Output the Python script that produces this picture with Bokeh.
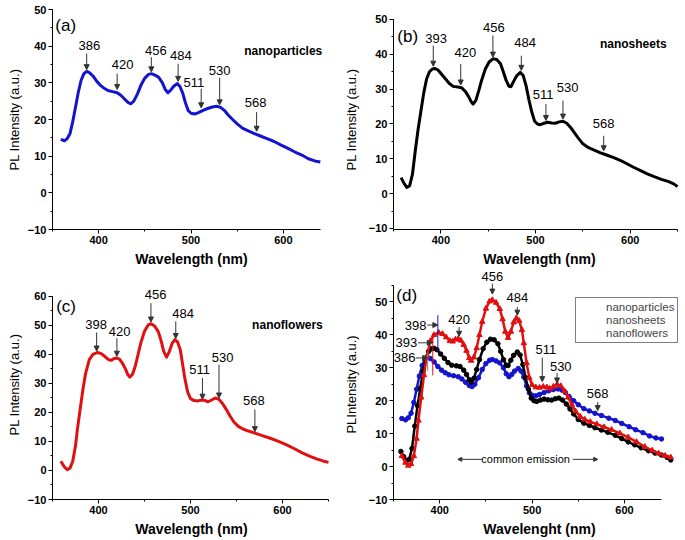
from bokeh.plotting import figure
from bokeh.layouts import column, row
from bokeh.models import (Range1d, ColumnDataSource, LabelSet, Arrow, NormalHead, Legend,
                          LegendItem, Label, SingleIntervalTicker)
from bokeh.core.properties import value
from bokeh.embed import file_html
from bokeh.resources import INLINE

FONT = "Liberation Sans"
BLUE = "#1414cc"
RED = "#e01010"
BLACK = "#000000"

# ---------------- data ----------------
wl_np = [359, 363, 366, 369, 372, 375, 378, 381, 384, 387, 390, 394, 398, 402, 406, 410, 415, 420,
         424, 428, 432, 435, 438, 442, 446, 450, 454, 457, 461, 465, 469, 472, 475, 478, 481, 485,
         488, 491, 494, 497, 500, 504, 508, 513, 518, 523, 528, 532, 536, 540, 545, 550, 556, 562,
         568, 575, 583, 590, 597, 605, 612, 620, 627, 634, 640]
pl_np = [14.6, 14.2, 14.8, 16.2, 19.5, 23.5, 27.5, 30.7, 32.5, 33.1, 32.8, 31.8, 30.4, 29.3, 28.5,
         27.9, 27.6, 27.3, 26.6, 25.6, 24.6, 24.3, 25.0, 27.0, 29.5, 31.3, 32.3, 32.5, 32.1, 31.5,
         30.0, 28.2, 27.3, 28.0, 29.0, 29.8, 29.0, 27.2, 24.5, 22.4, 21.7, 21.5, 21.9, 22.5, 23.0,
         23.4, 23.6, 23.3, 22.5, 21.3, 20.0, 18.8, 17.6, 16.9, 16.2, 15.5, 14.7, 14.0, 13.1, 12.1,
         11.2, 10.3, 9.3, 8.7, 8.4]

wl_ns = [358, 361, 364, 367, 370, 373, 376, 379, 382, 385, 388, 391, 394, 397, 401, 405, 409, 413,
         418, 422, 426, 429, 432, 434, 437, 440, 443, 447, 451, 455, 459, 463, 466, 469, 472, 474,
         477, 480, 484, 487, 490, 493, 496, 499, 502, 505, 509, 513, 517, 521, 525, 529, 533, 537,
         541, 545, 550, 556, 562, 568, 575, 582, 590, 597, 604, 611, 618, 626, 633, 640, 646, 650]
pl_ns = [4.6, 3.0, 1.8, 2.2, 5.5, 12.3, 18.5, 23.8, 29.0, 33.0, 35.0, 35.8, 35.9, 35.5, 34.2, 32.9,
         31.6, 30.8, 30.6, 30.4, 29.3, 28.0, 26.4, 25.7, 26.8, 29.5, 32.5, 35.8, 37.8, 38.7, 38.5,
         37.3, 35.0, 32.5, 30.8, 30.7, 32.3, 33.8, 34.8, 33.9, 31.0, 27.0, 23.5, 20.8, 20.0, 19.8,
         20.2, 20.5, 20.3, 20.2, 20.6, 20.8, 20.2, 19.0, 17.5, 16.0, 14.3, 13.2, 12.5, 11.8, 11.1,
         10.4, 9.5, 8.5, 7.5, 6.6, 5.7, 4.8, 4.1, 3.5, 2.8, 2.0]

wl_nf = [359, 363, 366, 369, 372, 375, 377, 380, 383, 386, 390, 394, 399, 403, 407, 411, 414, 417,
         420, 423, 426, 429, 432, 434, 437, 440, 443, 446, 450, 454, 457, 461, 465, 468, 471, 474,
         477, 480, 483, 486, 489, 491, 494, 497, 500, 504, 508, 512, 516, 519, 523, 527, 531, 535,
         539, 543, 547, 552, 557, 563, 570, 578, 586, 595, 604, 613, 622, 630, 637, 644, 650]
pl_nf = [3.2, 1.2, 0.3, 0.8, 3.2, 8.5, 14.0, 21.0, 27.8, 33.5, 38.2, 40.0, 40.7, 40.3, 39.3, 38.2,
         38.0, 38.6, 38.8, 38.3, 37.0, 35.2, 33.0, 32.2, 33.2, 36.0, 40.0, 44.0, 48.0, 50.2, 50.6,
         49.8, 47.9, 44.8, 41.0, 39.1, 41.0, 43.8, 45.1, 44.3, 41.5, 37.5, 31.5, 27.0, 24.8, 24.1,
         24.0, 24.3, 24.1, 23.7, 24.3, 25.0, 24.5, 23.0, 21.0, 18.8, 16.8, 15.2, 14.3, 13.6, 12.9,
         12.0, 11.2, 10.1, 8.9, 7.5, 6.0, 4.9, 4.0, 3.3, 2.8]

# peak annotations: label, text x, text y, arrow x, arrow y start, arrow y end
a_lab = ["386", "420", "456", "484", "511", "530", "568"]
a_tx = [390, 426, 462, 489, 503, 531, 570]
a_ty = [40.2, 35.0, 38.8, 37.5, 30.0, 33.4, 24.6]
a_ax = [387, 420, 457, 486, 511, 531, 571]
a_ay0 = [38.0, 32.5, 37.0, 35.2, 28.4, 31.4, 22.0]
a_ay1 = [33.6, 28.2, 33.0, 30.4, 23.2, 24.0, 16.8]

b_lab = ["393", "420", "456", "484", "511", "530", "568"]
b_tx = [395, 426, 456, 489, 508, 534, 572]
b_ty = [44.4, 40.6, 47.8, 43.5, 28.6, 30.5, 20.0]
b_ax = [392, 421, 455, 485, 511, 529, 572]
b_ay0 = [42.5, 37.2, 45.4, 39.6, 25.7, 26.7, 16.6]
b_ay1 = [36.6, 31.2, 39.2, 35.4, 21.0, 21.4, 12.3]

c_lab = ["398", "420", "456", "484", "511", "530", "568"]
c_tx = [397.5, 423, 462, 492, 510, 535, 569]
c_ty = [50.2, 48.0, 60.6, 54.3, 34.7, 38.8, 24.2]
c_ax = [398, 420, 457, 484, 513, 531, 570]
c_ay0 = [47.6, 45.6, 57.7, 51.4, 31.9, 36.5, 21.0]
c_ay1 = [41.2, 39.4, 51.2, 45.5, 24.6, 25.0, 13.4]

d_lab = ["456", "484", "420", "511", "530", "568"]
d_tx = [457, 484, 421, 515, 531, 571]
d_ty = [57.8, 51.3, 44.6, 35.5, 30.5, 22.2]
d_ax = [457, 484, 421, 511, 527, 571]
d_ay0 = [55.6, 48.5, 42.4, 33.1, 28.4, 19.6]
d_ay1 = [52.4, 46.0, 39.6, 25.8, 25.4, 17.0]

dh_lab = ["398", "393", "386"]
dh_tx = [374, 364, 362]
dh_ty = [43.0, 37.6, 33.0]
dh_x0 = [386.6, 376.5, 374.0]
dh_x1 = [398.0, 392.0, 387.0]

dv_x = [398.0, 392.5, 387.0]
dv_y0 = [35.0, 27.7, 29.0]
dv_y1 = [46.0, 40.5, 34.5]
dv_col = [BLUE, RED, "#888888"]

series_names = ["nanoparticles", "nanosheets", "nanoflowers"]


def make_fig(fw, fh, xr, yr, xb, yb, bl, br, bt, bb, xlabel, ylabel, ylab_standoff):
    p = figure(frame_width=fw, frame_height=fh, x_range=Range1d(*xr), y_range=Range1d(*yr),
               output_backend="svg", toolbar_location=None, tools="",
               min_border_left=bl, min_border_right=br, min_border_top=bt, min_border_bottom=bb)
    p.outline_line_color = None
    p.grid.visible = False
    p.background_fill_color = "white"
    p.border_fill_color = "white"
    p.xaxis.ticker = SingleIntervalTicker(interval=100, num_minor_ticks=2)
    p.yaxis.ticker = SingleIntervalTicker(interval=10, num_minor_ticks=2)
    p.xaxis.bounds = xb
    p.yaxis.bounds = yb
    for ax in (p.xaxis[0], p.yaxis[0]):
        ax.axis_line_color = "black"
        ax.axis_line_width = 1
        ax.major_tick_out = 4
        ax.major_tick_in = 0
        ax.minor_tick_out = 2
        ax.minor_tick_in = 0
        ax.major_tick_line_color = "black"
        ax.minor_tick_line_color = "black"
        ax.major_label_text_font = FONT
        ax.major_label_text_font_style = "bold"
        ax.major_label_text_font_size = "11px"
        ax.major_label_text_color = "black"
        ax.major_label_standoff = 2
        ax.axis_label_text_font = FONT
        ax.axis_label_text_color = "black"
    p.xaxis.axis_label = xlabel
    p.xaxis.axis_label_text_font_style = "bold"
    p.xaxis.axis_label_text_font_size = "14px"
    p.xaxis.axis_label_standoff = 4
    p.yaxis.axis_label = ylabel
    p.yaxis.axis_label_text_font_style = "normal"
    p.yaxis.axis_label_text_font_size = "13px"
    p.yaxis.axis_label_standoff = ylab_standoff
    return p


def add_text(p, x, y, text, size, style="normal", align="left"):
    p.add_layout(Label(x=x, y=y, text=text, text_font=FONT, text_font_size=size,
                       text_font_style=style, text_align=align, text_baseline="middle",
                       text_color="black"))


def add_peaks(p, lab, tx, ty, ax, ay0, ay1):
    src = ColumnDataSource(dict(x=tx, y=ty, t=lab))
    p.add_layout(LabelSet(x="x", y="y", text="t", source=src, text_align="center",
                          text_baseline="middle", text_font=value(FONT),
                          text_font_size=value("13px"), text_color="black"))
    asrc = ColumnDataSource(dict(x0=ax, y0=ay0, x1=ax, y1=ay1))
    p.add_layout(Arrow(x_start="x0", y_start="y0", x_end="x1", y_end="y1", source=asrc,
                       line_color="#333333", line_width=1,
                       end=NormalHead(size=5, fill_color="#333333", line_color="#333333")))


# layout: same borders along each row / column so the frames are not re-aligned
L1, R1, L2, R2 = 52, 10, 52, 1         # column 1 / column 2 left & right borders
T1, B1, T2, B2 = 9, 40, 0, 40          # row 1 / row 2 top & bottom borders
FW1, FW2, FH1, FH2 = 278, 292, 220, 230

# ---------------- (a) ----------------
pa = make_fig(FW1, FH1, (350, 651), (-10, 50), (350, 640), (-10, 50), L1, R1, T1, B1,
              "Wavelength (nm)", "PL Intensity (a.u.)", 3)
pa.line(wl_np, pl_np, line_color=BLUE, line_width=3, line_join="round")
add_peaks(pa, a_lab, a_tx, a_ty, a_ax, a_ay0, a_ay1)
add_text(pa, 353, 45.6, "(a)", "17px")
add_text(pa, 557.6, 38.7, series_names[0], "12px", "bold")

# ---------------- (b) ----------------
pb = make_fig(FW2, FH1, (350, 658.4), (-10.3, 52.87), (350, 650), (-10, 50), L2, R2, T1, B1,
              "Wavelength (nm)", "PL Intensity (a.u.)", 7)
pb.line(wl_ns, pl_ns, line_color=BLACK, line_width=3, line_join="round")
add_peaks(pb, b_lab, b_tx, b_ty, b_ax, b_ay0, b_ay1)
add_text(pb, 354, 45, "(b)", "17px")
add_text(pb, 568, 43, series_names[1], "12px", "bold")

# ---------------- (c) ----------------
pc = make_fig(FW1, FH2, (350, 652.2), (-10, 69.3), (350, 650), (-10, 60), L1, R1, T2, B2,
              "Wavelength (nm)", "PL Intensity (a.u.)", 3)
pc.line(wl_nf, pl_nf, line_color=RED, line_width=3, line_join="round")
add_peaks(pc, c_lab, c_tx, c_ty, c_ax, c_ay0, c_ay1)
add_text(pc, 354, 56.6, "(c)", "17px")
add_text(pc, 567, 50.2, series_names[2], "12px", "bold")

# ---------------- (d) ----------------
pd = make_fig(FW2, FH2, (350, 666), (-10, 59.87), (350, 640), (-10, 55), L2, R2, T2, B2,
              "Wavelenght (nm)", "PLIntensity (a.u.)", 7)
pd.line(wl_np, pl_np, line_color=BLUE, line_width=2.5)
pd.scatter(wl_np, pl_np, marker="circle", size=4.5, color=BLUE)
pd.line(wl_ns, pl_ns, line_color=BLACK, line_width=2.5)
pd.scatter(wl_ns, pl_ns, marker="circle", size=4.5, color=BLACK)
pd.line(wl_nf, pl_nf, line_color=RED, line_width=2.5)
pd.scatter(wl_nf, pl_nf, marker="triangle", size=5.5, color=RED)
pd.segment(x0=dv_x, y0=dv_y0, x1=dv_x, y1=dv_y1, line_color=dv_col, line_width=1)
add_peaks(pd, d_lab, d_tx, d_ty, d_ax, d_ay0, d_ay1)
hsrc = ColumnDataSource(dict(x=dh_tx, y=dh_ty, t=dh_lab))
pd.add_layout(LabelSet(x="x", y="y", text="t", source=hsrc, text_align="center",
                       text_baseline="middle", text_font=value(FONT),
                       text_font_size=value("13px"), text_color="black"))
hasrc = ColumnDataSource(dict(x0=dh_x0, x1=dh_x1, y=dh_ty))
pd.add_layout(Arrow(x_start="x0", y_start="y", x_end="x1", y_end="y", source=hasrc,
                    line_color="#333333", line_width=1,
                    end=NormalHead(size=5, fill_color="#333333", line_color="#333333")))
add_text(pd, 353, 52, "(d)", "17px")
add_text(pd, 493, 2.2, "common emission", "11px", "normal", "center")
for xs, xe in ((446.7, 419.6), (544.0, 571.0)):
    pd.add_layout(Arrow(x_start=xs, y_start=2.2, x_end=xe, y_end=2.2, line_color="#333333",
                        line_width=1,
                        end=NormalHead(size=4, fill_color="#333333", line_color="#333333")))

leg_items = []
for name, lcol, mcol, mk in ((series_names[0], BLUE, BLUE, "square"),
                             (series_names[1], RED, BLACK, "circle"),
                             (series_names[2], BLUE, RED, "triangle")):
    rl = pd.line(x=[], y=[], line_color=lcol, line_width=1.2)
    rm = pd.scatter(x=[], y=[], marker=mk, size=4, color=mcol)
    leg_items.append(LegendItem(label=name, renderers=[rl, rm]))
legend = Legend(items=leg_items, location=(182, 156), border_line_color="black",
                border_line_width=1, background_fill_color="white", background_fill_alpha=1,
                label_text_font=FONT, label_text_font_size="11.5px", glyph_width=24,
                glyph_height=12, label_height=12, label_standoff=3, spacing=1, padding=3,
                margin=0)
pd.add_layout(legend)

layout = column(row(pa, pb), row(pc, pd))
open("out.html", "w").write(file_html(layout, INLINE))
